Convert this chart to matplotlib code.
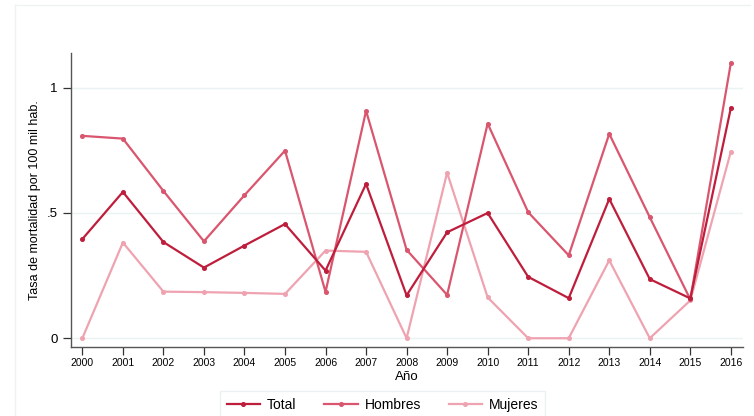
import matplotlib.pyplot as plt
from matplotlib.lines import Line2D

# tasa de mortalidad por 100 mil hab.
years = list(range(2000, 2017))
total = [0.396, 0.584, 0.384, 0.282, 0.370, 0.456, 0.270, 0.616, 0.171,
         0.423, 0.500, 0.245, 0.160, 0.556, 0.236, 0.159, 0.919]
hombres = [0.808, 0.797, 0.588, 0.387, 0.571, 0.749, 0.185, 0.908, 0.353,
           0.173, 0.857, 0.503, 0.331, 0.816, 0.483, 0.155, 1.099]
mujeres = [0.0, 0.382, 0.186, 0.184, 0.181, 0.177, 0.350, 0.345, 0.0,
           0.661, 0.163, 0.0, 0.0, 0.311, 0.0, 0.151, 0.745]
yticks = [0, 0.5, 1]
ytick_labels = ['0', '.5', '1']

plt.rcParams['font.family'] = ['Liberation Sans', 'DejaVu Sans']

fig = plt.figure(figsize=(7.54, 4.16), dpi=100)
ax = fig.add_axes([71 / 754, 1 - 347 / 416, (743 - 71) / 754, (347 - 52.7) / 416])

# faint outer frame (top and left edges)
fig.add_artist(Line2D([15 / 754, 750 / 754], [1 - 5 / 416, 1 - 5 / 416],
                      transform=fig.transFigure, color='#EEF2F2', lw=1))
fig.add_artist(Line2D([15 / 754, 15 / 754], [1 - 5 / 416, 0],
                      transform=fig.transFigure, color='#EEF2F2', lw=1))

c_total = '#BE1E3C'
c_hombres = '#D9566E'
c_mujeres = '#EFA3B0'

ax.plot(years, mujeres, color=c_mujeres, lw=1.6, marker='o', ms=2.6, label='Mujeres', zorder=3)
ax.plot(years, hombres, color=c_hombres, lw=1.6, marker='o', ms=2.6, label='Hombres', zorder=4)
ax.plot(years, total, color=c_total, lw=1.6, marker='o', ms=2.6, label='Total', zorder=5)

ax.set_xlim(1999.72, 2016.30)
ax.set_ylim(-0.035, 1.14)
ax.set_xticks(years)
ax.set_xticklabels([str(y) for y in years], fontsize=7.5)
ax.set_yticks(yticks)
ax.set_yticklabels(ytick_labels, fontsize=9.5)
ax.grid(axis='y', color='#EAF2F3', lw=1)
ax.set_axisbelow(True)

for side in ['top', 'right']:
    ax.spines[side].set_visible(False)
for side in ['left', 'bottom']:
    ax.spines[side].set_color('#555555')
    ax.spines[side].set_linewidth(1)
ax.tick_params(axis='both', direction='out', length=6, width=0.9, color='#333333')
ax.tick_params(axis='x', pad=2)

ax.set_xlabel('Año', fontsize=9.5, labelpad=2)
ax.set_ylabel('Tasa de mortalidad por 100 mil hab.', fontsize=9, labelpad=4)

handles, labels = ax.get_legend_handles_labels()
order = [2, 1, 0]
leg = fig.legend([handles[i] for i in order], [labels[i] for i in order],
                 loc='upper center', bbox_to_anchor=(382.5 / 754, 1 - 391 / 416),
                 ncol=3, fontsize=10, frameon=True, fancybox=False,
                 borderaxespad=0, handlelength=2.4, handletextpad=0.5,
                 columnspacing=2.0, borderpad=0.5)
leg.get_frame().set_edgecolor('#E6EEF0')
leg.get_frame().set_linewidth(1)

fig.savefig('out.png', dpi=100)
